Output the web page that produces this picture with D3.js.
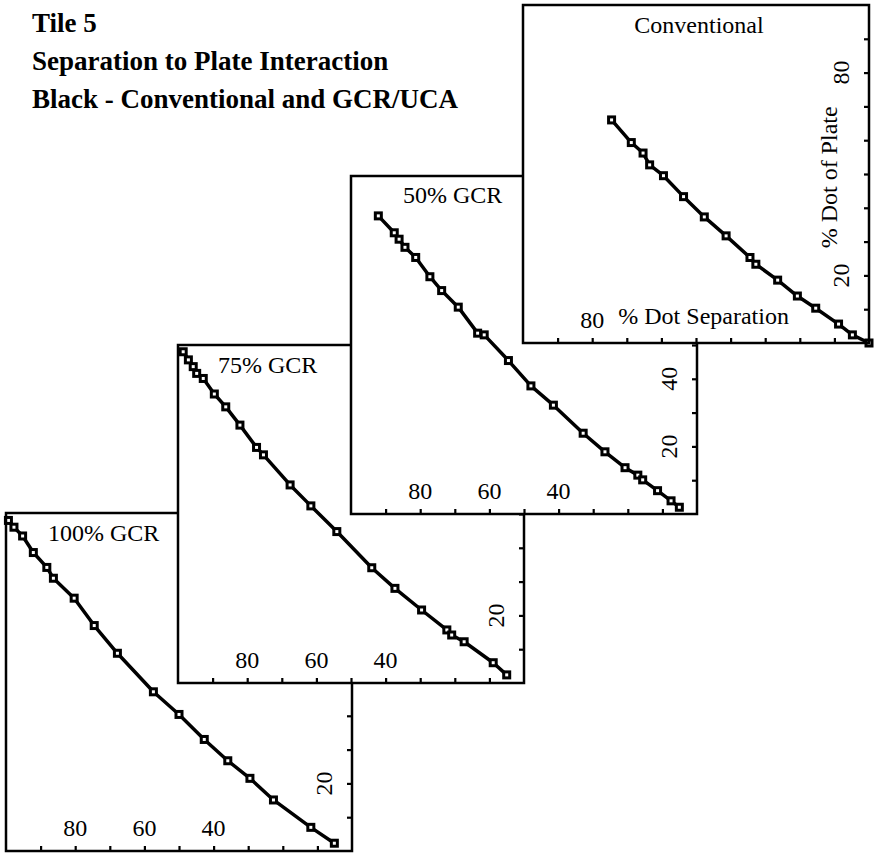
<!DOCTYPE html>
<html>
<head>
<meta charset="utf-8">
<script src="https://cdn.jsdelivr.net/npm/d3@7"></script>
<style>
  html, body { margin: 0; padding: 0; background: #fff; }
  svg { display: block; }
  text { font-family: "Liberation Serif", "Times New Roman", serif; fill: #000; }
</style>
</head>
<body>
<svg id="chart" width="880" height="855"></svg>
<script>
// Titles
const titleLines = ["Tile 5", "Separation to Plate Interaction", "Black - Conventional and GCR/UCA"];

// Panel names (drawn back to front)
const panelNames = ["100% GCR", "75% GCR", "50% GCR", "Conventional"];

// % dot separation (x) and % dot of plate (y) per panel
const gcr100Sep   = [99.3, 97.7, 95.2, 92.1, 88.2, 86.3, 80.3, 74.5, 67.8, 57.4, 50.0, 42.7, 35.9, 29.5, 22.7, 11.9, 5.1];
const gcr100Plate = [97.8, 95.8, 93.2, 88.3, 83.9, 80.7, 74.8, 66.7, 58.5, 47.1, 40.4, 33.0, 26.7, 21.5, 15.1, 7.0, 2.3];

const gcr75Sep    = [98.5, 97.0, 95.6, 94.6, 92.7, 89.5, 86.2, 82.1, 77.3, 75.3, 67.6, 61.6, 54.1, 44.0, 37.3, 29.6, 22.3, 20.9, 17.3, 8.9, 5.0];
const gcr75Plate  = [98.0, 95.6, 93.6, 91.6, 90.1, 85.5, 81.7, 76.3, 69.7, 67.5, 58.6, 52.4, 44.8, 34.1, 28.0, 21.6, 15.7, 14.2, 12.2, 6.0, 2.4];

const gcr50Sep    = [92.1, 87.5, 86.1, 84.4, 81.3, 77.2, 73.8, 69.0, 63.4, 61.5, 54.5, 48.0, 41.5, 32.9, 26.6, 20.8, 17.1, 15.7, 11.4, 7.5, 5.1];
const gcr50Plate  = [88.2, 83.2, 81.3, 78.9, 75.9, 70.2, 66.1, 61.2, 53.5, 53.0, 45.4, 37.9, 32.2, 23.9, 18.4, 13.7, 11.5, 10.1, 6.9, 3.9, 2.0];

const convSep     = [74.4, 68.7, 65.3, 63.4, 59.4, 53.6, 47.6, 41.3, 34.4, 32.7, 26.4, 20.7, 15.4, 8.8, 4.8, 0.0];
const convPlate   = [66.0, 59.3, 56.2, 52.7, 49.5, 43.3, 37.3, 31.7, 25.3, 23.3, 18.6, 13.9, 10.3, 5.6, 2.4, 0.0];

// Axis ticks and the labels shown on each panel
const tickValues = [10, 20, 30, 40, 50, 60, 70, 80, 90];
const xLabels100 = [80, 60, 40], yLabels100 = [20];
const xLabels75  = [80, 60, 40], yLabels75  = [20];
const xLabels50  = [80, 60, 40], yLabels50  = [40, 20];
const xLabelsConv = [80],        yLabelsConv = [80, 20];
const xAxisTitle = "% Dot Separation";
const yAxisTitle = "% Dot of Plate";

const seriesSep   = [gcr100Sep, gcr75Sep, gcr50Sep, convSep];
const seriesPlate = [gcr100Plate, gcr75Plate, gcr50Plate, convPlate];
const xLabelSets  = [xLabels100, xLabels75, xLabels50, xLabelsConv];
const yLabelSets  = [yLabels100, yLabels75, yLabels50, yLabelsConv];

// Layout: staggered panels, each overlapping the previous one
const W = 346, H = 338;
const panelOrigins = [[6, 513], [178, 345], [351, 176], [523, 5]];
const nameAnchors = [
  { x: 42, y: 28, anchor: "start" },
  { x: 40, y: 28, anchor: "start" },
  { x: 52, y: 27, anchor: "start" },
  { x: W / 2 + 3, y: 28, anchor: "middle" }
];

const svg = d3.select("#chart");

svg.selectAll("text.title")
  .data(titleLines)
  .join("text")
  .attr("class", "title")
  .attr("x", 32)
  .attr("y", (d, i) => 32 + i * 38)
  .attr("font-size", 27)
  .attr("font-weight", "bold")
  .text(d => d);

const x = d3.scaleLinear().domain([100, 0]).range([0, W]);
const y = d3.scaleLinear().domain([0, 100]).range([H, 0]);

const line = d3.line()
  .x(d => x(d[0]))
  .y(d => y(d[1]));

panelNames.forEach((name, i) => {
  const [ox, oy] = panelOrigins[i];
  const g = svg.append("g").attr("transform", `translate(${ox},${oy})`);

  // white background hides the panel behind
  g.append("rect")
    .attr("width", W).attr("height", H)
    .attr("fill", "#fff");

  // bottom axis, ticks pointing inward
  const xAxis = g.append("g")
    .attr("transform", `translate(0,${H})`)
    .call(d3.axisBottom(x).tickValues(tickValues).tickSize(-5).tickSizeOuter(0).tickFormat(""));
  xAxis.select(".domain").remove();
  xAxis.selectAll(".tick line").attr("stroke", "#000").attr("stroke-width", 2.2);

  // right axis, ticks pointing inward
  const yAxis = g.append("g")
    .attr("transform", `translate(${W},0)`)
    .call(d3.axisRight(y).tickValues(tickValues).tickSize(-5).tickSizeOuter(0).tickFormat(""));
  yAxis.select(".domain").remove();
  yAxis.selectAll(".tick line").attr("stroke", "#000").attr("stroke-width", 2.2);

  // tick labels inside the frame
  g.selectAll("text.xl")
    .data(xLabelSets[i])
    .join("text")
    .attr("class", "xl")
    .attr("x", d => x(d))
    .attr("y", H - 15)
    .attr("text-anchor", "middle")
    .attr("font-size", 24)
    .text(d => d);

  g.selectAll("text.yl")
    .data(yLabelSets[i])
    .join("text")
    .attr("class", "yl")
    .attr("transform", d => `translate(${W - 20},${y(d)}) rotate(-90)`)
    .attr("text-anchor", "middle")
    .attr("font-size", 24)
    .text(d => d);

  if (name === "Conventional") {
    g.append("text")
      .attr("x", x(47.8))
      .attr("y", H - 19)
      .attr("text-anchor", "middle")
      .attr("font-size", 24)
      .text(xAxisTitle);
    g.append("text")
      .attr("transform", `translate(${W - 32},${y(49)}) rotate(-90)`)
      .attr("text-anchor", "middle")
      .attr("font-size", 24)
      .text(yAxisTitle);
  }

  // panel name
  const na = nameAnchors[i];
  g.append("text")
    .attr("x", na.x)
    .attr("y", na.y)
    .attr("text-anchor", na.anchor)
    .attr("font-size", 24)
    .text(name);

  // curve and markers
  const pts = seriesSep[i].map((s, k) => [s, seriesPlate[i][k]]);
  g.append("path")
    .datum(pts)
    .attr("d", line)
    .attr("fill", "none")
    .attr("stroke", "#000")
    .attr("stroke-width", 3.5)
    .attr("stroke-linejoin", "round");

  const m = 6;
  g.selectAll("rect.mk")
    .data(pts)
    .join("rect")
    .attr("class", "mk")
    .attr("x", d => x(d[0]) - m / 2)
    .attr("y", d => y(d[1]) - m / 2)
    .attr("width", m)
    .attr("height", m)
    .attr("fill", "#fff")
    .attr("stroke", "#000")
    .attr("stroke-width", 3);

  // frame
  g.append("rect")
    .attr("width", W).attr("height", H)
    .attr("fill", "none")
    .attr("stroke", "#000")
    .attr("stroke-width", 2.5);
});
</script>
</body>
</html>
